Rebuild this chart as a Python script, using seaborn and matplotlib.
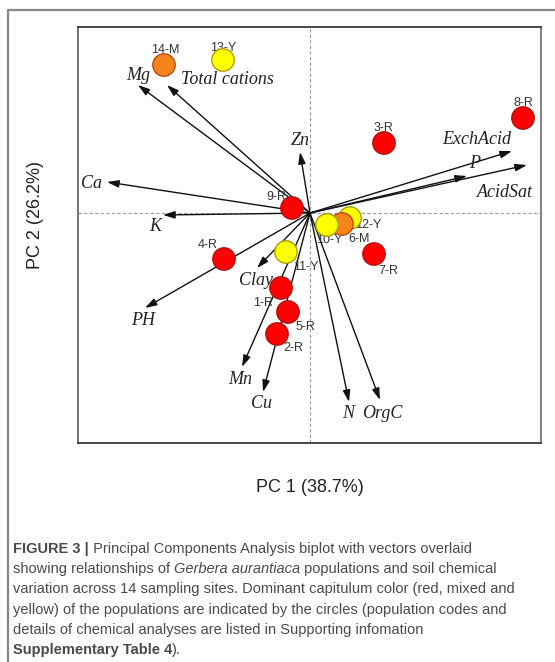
import numpy as np
import pandas as pd
import matplotlib
matplotlib.use("Agg")
import matplotlib.pyplot as plt
from matplotlib.lines import Line2D
import seaborn as sns

# ---------------- data ----------------
site_codes = ["12-Y", "6-M", "10-Y", "1-R", "2-R", "3-R", "4-R", "5-R",
              "7-R", "8-R", "9-R", "11-Y", "13-Y", "14-M"]
site_color = ["yellow", "mixed", "yellow", "red", "red", "red", "red", "red",
              "red", "red", "red", "yellow", "yellow", "mixed"]
pc1_scores = [0.40, 0.32, 0.17, -0.29, -0.33, 0.74, -0.86, -0.22,
              0.64, 2.13, -0.18, -0.24, -0.87, -1.46]
pc2_scores = [-0.05, -0.11, -0.12, -0.75, -1.21, 0.70, -0.46, -0.99,
              -0.41, 0.95, 0.05, -0.39, 1.53, 1.48]
site_label_x = [0.58, 0.49, 0.19, -0.47, -0.17, 0.74, -1.02, -0.05,
                0.78, 2.13, -0.34, -0.04, -0.87, -1.45]
site_label_y = [-0.12, -0.26, -0.27, -0.90, -1.35, 0.85, -0.32, -1.14,
                -0.58, 1.10, 0.16, -0.54, 1.65, 1.63]

variables = ["Mg", "Total cations", "Ca", "K", "Zn", "ExchAcid", "P",
             "AcidSat", "PH", "Clay", "Mn", "Cu", "N", "OrgC"]
load_pc1 = [-1.72, -1.43, -2.03, -1.47, -0.10, 2.02, 1.57, 2.17,
            -1.65, -0.53, -0.68, -0.47, 0.39, 0.70]
load_pc2 = [1.28, 1.28, 0.31, -0.02, 0.61, 0.62, 0.37, 0.48,
            -0.95, -0.55, -1.54, -1.79, -1.89, -1.87]
var_label_x = [-1.72, -0.83, -2.18, -1.55, -0.10, 1.67, 1.65, 1.95,
               -1.67, -0.54, -0.70, -0.48, 0.38, 0.72]
var_label_y = [1.38, 1.34, 0.30, -0.13, 0.73, 0.74, 0.50, 0.21,
               -1.07, -0.67, -1.67, -1.90, -2.00, -2.00]

x_title = "PC 1 (38.7%)"
y_title = "PC 2 (26.2%)"

face_pal = {"red": "#FF0000", "mixed": "#F5841C", "yellow": "#FFFF00"}
edge_pal = {"red": "#B01010", "mixed": "#C04A10", "yellow": "#A8A000"}

df = pd.DataFrame({"code": site_codes, "colour": site_color,
                   "PC1": pc1_scores, "PC2": pc2_scores})

# ---------------- figure ----------------
W, H = 555, 662
fig = plt.figure(figsize=(W / 100, H / 100), dpi=100)
sns.set_style("white")
plt.rcParams["font.family"] = ["Liberation Sans", "DejaVu Sans"]

L, R, T, B = 78, 541, 27, 443
ax = fig.add_axes([L / W, 1 - B / H, (R - L) / W, (B - T) / H])
ax.set_xlim(-2.32, 2.31)
ax.set_ylim(-2.30, 1.86)
ax.set_xticks([])
ax.set_yticks([])
for s in ax.spines.values():
    s.set_color("#3a3a3a")
    s.set_linewidth(1.3)
ax.spines["left"].set_color("#666666")
ax.spines["right"].set_color("#777777")

# crosshair
ax.axhline(0, color="#999999", lw=0.8, ls=(0, (3, 2)), zorder=0)
ax.axvline(0, color="#999999", lw=0.8, ls=(0, (3, 2)), zorder=0)

# vectors
for name, vx, vy, lx, ly in zip(variables, load_pc1, load_pc2, var_label_x, var_label_y):
    ax.annotate("", xy=(vx, vy), xytext=(0, 0),
                arrowprops=dict(arrowstyle="-|>,head_length=0.7,head_width=0.22",
                                color="#111111", lw=1.0, shrinkA=0, shrinkB=0),
                zorder=2)
    ax.text(lx, ly, name, family="Liberation Serif", style="italic",
            fontsize=13, color="#222222", ha="center", va="center", zorder=2)

# site labels (under the circles)
for code, lx, ly in zip(site_codes, site_label_x, site_label_y):
    ax.text(lx, ly, code, fontsize=9, color="#333333", ha="center",
            va="center", zorder=3)

# sites
sns.scatterplot(data=df, x="PC1", y="PC2", hue="colour", palette=face_pal,
                s=260, linewidth=1.0, legend=False, ax=ax, zorder=4)
coll = ax.collections[-1]
coll.set_edgecolors([edge_pal[c] for c in site_color])
ax.set_xlabel("")
ax.set_ylabel("")

# axis titles
fig.text(310 / W, 1 - 487 / H, x_title, fontsize=13, color="#222222",
         ha="center", va="center")
fig.text(35 / W, 1 - 215 / H, y_title, fontsize=13, color="#222222",
         ha="center", va="center", rotation=90)

# outer frame
fig.add_artist(Line2D([8 / W, 8 / W, 1.0], [0.0, 1 - 10 / H, 1 - 10 / H],
                      transform=fig.transFigure, color="#888888", lw=1.6))

# caption
cap_lines = [
    [("FIGURE 3 |", "bold", "normal"),
     (" Principal Components Analysis biplot with vectors overlaid", "normal", "normal")],
    [("showing relationships of ", "normal", "normal"),
     ("Gerbera aurantiaca", "normal", "italic"),
     (" populations and soil chemical", "normal", "normal")],
    [("variation across 14 sampling sites. Dominant capitulum color (red, mixed and", "normal", "normal")],
    [("yellow) of the populations are indicated by the circles (population codes and", "normal", "normal")],
    [("details of chemical analyses are listed in Supporting infomation", "normal", "normal")],
    [("Supplementary Table 4", "bold", "normal"), (").", "normal", "normal")],
]
cap_x = 13
cap_y0 = 547
cap_dy = 20.2
cap_fs = 10.5
for i, runs in enumerate(cap_lines):
    y = 1 - (cap_y0 + i * cap_dy + 6) / H
    prev = None
    for txt, wt, st in runs:
        if prev is None:
            prev = fig.text(cap_x / W, y, txt, fontsize=cap_fs, color="#4a4a4a",
                            weight=wt, style=st, ha="left", va="baseline")
        else:
            prev = ax.annotate(txt, xy=(1, 0), xycoords=prev, xytext=(0, 0),
                               textcoords="offset points", fontsize=cap_fs,
                               color="#4a4a4a", weight=wt, style=st,
                               ha="left", va="bottom", annotation_clip=False)

fig.savefig("out.png", dpi=100)
